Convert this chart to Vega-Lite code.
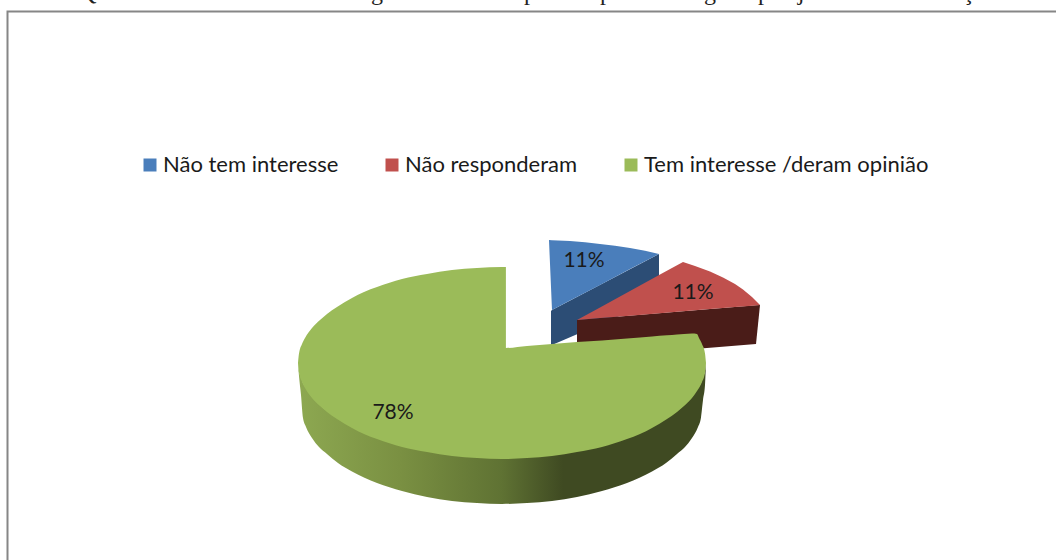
{"$schema":"https://vega.github.io/schema/vega-lite/v6.json","width":1056,"height":560,"autosize":"none","padding":0,"background":"white",
"config":{"view":{"stroke":null}},
"datasets":{
"blueSide":[{"x":551,"y":311,"y2":346},{"x":552,"y":310,"y2":345},{"x":659,"y":254,"y2":299}],
"blueTop":[{"slice":"Não tem interesse","x":549,"y":240,"y2":240.5},{"slice":"Não tem interesse","x":552,"y":240.2,"y2":310},{"slice":"Não tem interesse","x":570,"y":241,"y2":300.6},{"slice":"Não tem interesse","x":585,"y":242.2,"y2":292.7},{"slice":"Não tem interesse","x":600,"y":244,"y2":285},{"slice":"Não tem interesse","x":615,"y":245.8,"y2":277},{"slice":"Não tem interesse","x":630,"y":248,"y2":269},{"slice":"Não tem interesse","x":645,"y":250.8,"y2":261.3},{"slice":"Não tem interesse","x":659,"y":254,"y2":254}],
"redSide":[{"x":577,"y":320,"y2":358.6},{"x":707,"y":309.3,"y2":348},{"x":756,"y":305.3,"y2":344},{"x":760,"y":305,"y2":305}],
"redTop":[{"slice":"Não responderam","x":577,"y":320,"y2":320},{"slice":"Não responderam","x":600,"y":307.4,"y2":318},{"slice":"Não responderam","x":630,"y":291,"y2":315.7},{"slice":"Não responderam","x":660,"y":274.6,"y2":313.2},{"slice":"Não responderam","x":683,"y":262,"y2":311.3},{"slice":"Não responderam","x":695,"y":266,"y2":310.3},{"slice":"Não responderam","x":710,"y":271.5,"y2":309},{"slice":"Não responderam","x":723,"y":277.5,"y2":308},{"slice":"Não responderam","x":735,"y":284,"y2":307},{"slice":"Não responderam","x":743,"y":289.5,"y2":306.4},{"slice":"Não responderam","x":752,"y":297,"y2":305.7},{"slice":"Não responderam","x":760,"y":305,"y2":305}],
"greenSide":[{"x":298,"y":362,"y2":364},{"x":299,"y":371,"y2":376},{"x":301,"y":377,"y2":395},{"x":303,"y":383,"y2":418},{"x":306,"y":387,"y2":427},{"x":312,"y":397,"y2":438},{"x":319,"y":404,"y2":447},{"x":327,"y":411,"y2":454},{"x":338,"y":418,"y2":463},{"x":352,"y":427,"y2":471.5},{"x":377,"y":438,"y2":483},{"x":402,"y":446,"y2":491},{"x":427,"y":451,"y2":497},{"x":452,"y":455,"y2":501},{"x":477,"y":457,"y2":503},{"x":502,"y":458,"y2":504},{"x":527,"y":457,"y2":503},{"x":552,"y":455,"y2":501},{"x":577,"y":451,"y2":497},{"x":602,"y":446,"y2":491},{"x":627,"y":438,"y2":483},{"x":652,"y":427,"y2":471.5},{"x":666,"y":418,"y2":463},{"x":677,"y":411,"y2":454},{"x":685,"y":404,"y2":447},{"x":692,"y":397,"y2":438},{"x":698,"y":387,"y2":427},{"x":701,"y":383,"y2":417.6},{"x":703,"y":377,"y2":400},{"x":705,"y":371,"y2":385},{"x":706,"y":362,"y2":364}],
"greenTop":[{"slice":"Tem interesse /deram opinião","x":298,"y":363,"y2":363},{"slice":"Tem interesse /deram opinião","x":299,"y":353.5,"y2":372.5},{"slice":"Tem interesse /deram opinião","x":302,"y":344,"y2":382},{"slice":"Tem interesse /deram opinião","x":305,"y":338,"y2":388},{"slice":"Tem interesse /deram opinião","x":312,"y":328,"y2":398},{"slice":"Tem interesse /deram opinião","x":320,"y":320,"y2":406},{"slice":"Tem interesse /deram opinião","x":327,"y":314,"y2":412},{"slice":"Tem interesse /deram opinião","x":337,"y":307,"y2":419},{"slice":"Tem interesse /deram opinião","x":352,"y":298,"y2":428},{"slice":"Tem interesse /deram opinião","x":364,"y":292,"y2":434},{"slice":"Tem interesse /deram opinião","x":377,"y":287,"y2":439},{"slice":"Tem interesse /deram opinião","x":402,"y":279,"y2":447},{"slice":"Tem interesse /deram opinião","x":427,"y":274,"y2":452},{"slice":"Tem interesse /deram opinião","x":452,"y":270,"y2":456},{"slice":"Tem interesse /deram opinião","x":477,"y":268,"y2":458},{"slice":"Tem interesse /deram opinião","x":502,"y":267,"y2":459},{"slice":"Tem interesse /deram opinião","x":505.9,"y":267,"y2":459},{"slice":"Tem interesse /deram opinião","x":506,"y":348,"y2":459},{"slice":"Tem interesse /deram opinião","x":527,"y":346,"y2":458},{"slice":"Tem interesse /deram opinião","x":552,"y":344,"y2":456},{"slice":"Tem interesse /deram opinião","x":577,"y":342,"y2":452},{"slice":"Tem interesse /deram opinião","x":602,"y":340.5,"y2":447},{"slice":"Tem interesse /deram opinião","x":627,"y":338.5,"y2":439},{"slice":"Tem interesse /deram opinião","x":640,"y":337.5,"y2":434},{"slice":"Tem interesse /deram opinião","x":652,"y":336.5,"y2":428},{"slice":"Tem interesse /deram opinião","x":667,"y":335.3,"y2":419},{"slice":"Tem interesse /deram opinião","x":677,"y":334.5,"y2":412},{"slice":"Tem interesse /deram opinião","x":684,"y":334,"y2":406},{"slice":"Tem interesse /deram opinião","x":692,"y":333.5,"y2":398},{"slice":"Tem interesse /deram opinião","x":697,"y":334,"y2":391},{"slice":"Tem interesse /deram opinião","x":699,"y":338,"y2":388},{"slice":"Tem interesse /deram opinião","x":702,"y":344,"y2":382},{"slice":"Tem interesse /deram opinião","x":705,"y":353.5,"y2":372.5},{"slice":"Tem interesse /deram opinião","x":706,"y":363,"y2":363}],
"labels":[{"slice":"Não tem interesse","share":0.11,"x":584,"y":261},{"slice":"Não responderam","share":0.11,"x":693,"y":293},{"slice":"Tem interesse /deram opinião","share":0.78,"x":393,"y":413}],
"frame":[{"x":7.5,"x2":1200,"y":11.5,"y2":700}],
"titleTails":[{"t":"Q","x":88,"y":0},{"t":"g","x":377,"y":0},{"t":"p","x":530,"y":0},{"t":"p","x":606,"y":0},{"t":"g","x":710,"y":0},{"t":"p","x":764,"y":0},{"t":"j","x":801,"y":0},{"t":"ç","x":968,"y":0}]
},
"encoding":{
"x":{"field":"x","type":"quantitative","axis":null,"scale":{"domain":[0,1056],"nice":false,"zero":false}},
"y":{"field":"y","type":"quantitative","axis":null,"scale":{"domain":[560,0],"nice":false,"zero":false}}
},
"layer":[
{"data":{"name":"frame"},"mark":{"type":"rect","clip":true,"fillOpacity":0,"stroke":"#868686","strokeWidth":2},"encoding":{"x2":{"field":"x2"},"y2":{"field":"y2"}}},
{"data":{"name":"titleTails"},"mark":{"type":"text","clip":true,"font":"Liberation Serif","fontSize":24,"align":"center","baseline":"alphabetic","color":"#222222"},"encoding":{"text":{"field":"t"}}},
{"data":{"name":"blueSide"},"mark":{"type":"area","orient":"vertical","color":"#2C4D75"},"encoding":{"y2":{"field":"y2"}}},
{"data":{"name":"blueTop"},"mark":{"type":"area","orient":"vertical"},"encoding":{"y2":{"field":"y2"},"color":{"field":"slice","type":"nominal","sort":null,"scale":{"domain":["Não tem interesse","Não responderam","Tem interesse /deram opinião"],"range":["#4A7EBB","#C0504D","#9BBB59"]},"legend":{"orient":"none","legendX":139,"legendY":154,"direction":"horizontal","columns":3,"title":null,"symbolType":"square","symbolSize":169,"symbolStrokeWidth":0,"symbolOpacity":1,"labelFont":"Lato","labelFontSize":22,"labelColor":"#1a1a1a","labelOffset":2,"columnPadding":42,"labelLimit":400,"padding":0}}}},
{"data":{"name":"redSide"},"mark":{"type":"area","orient":"vertical","color":"#4A1C18"},"encoding":{"y2":{"field":"y2"}}},
{"data":{"name":"redTop"},"mark":{"type":"area","orient":"vertical"},"encoding":{"y2":{"field":"y2"},"color":{"field":"slice","type":"nominal"}}},
{"data":{"name":"greenSide"},"mark":{"type":"area","orient":"vertical","interpolate":"monotone","color":{"gradient":"linear","x1":0,"y1":0,"x2":1,"y2":0,"stops":[{"offset":0,"color":"#8DA851"},{"offset":0.25,"color":"#7A9042"},{"offset":0.5,"color":"#5F7233"},{"offset":0.65,"color":"#3F4A22"},{"offset":1,"color":"#3F4A22"}]}},"encoding":{"y2":{"field":"y2"}}},
{"data":{"name":"greenTop"},"mark":{"type":"area","orient":"vertical","interpolate":"monotone"},"encoding":{"y2":{"field":"y2"},"color":{"field":"slice","type":"nominal"}}},
{"data":{"name":"labels"},"mark":{"type":"text","font":"Lato","fontSize":21,"align":"center","baseline":"middle","color":"#1a1a1a"},"encoding":{"text":{"field":"share","type":"quantitative","format":".0%"}}}
]}
